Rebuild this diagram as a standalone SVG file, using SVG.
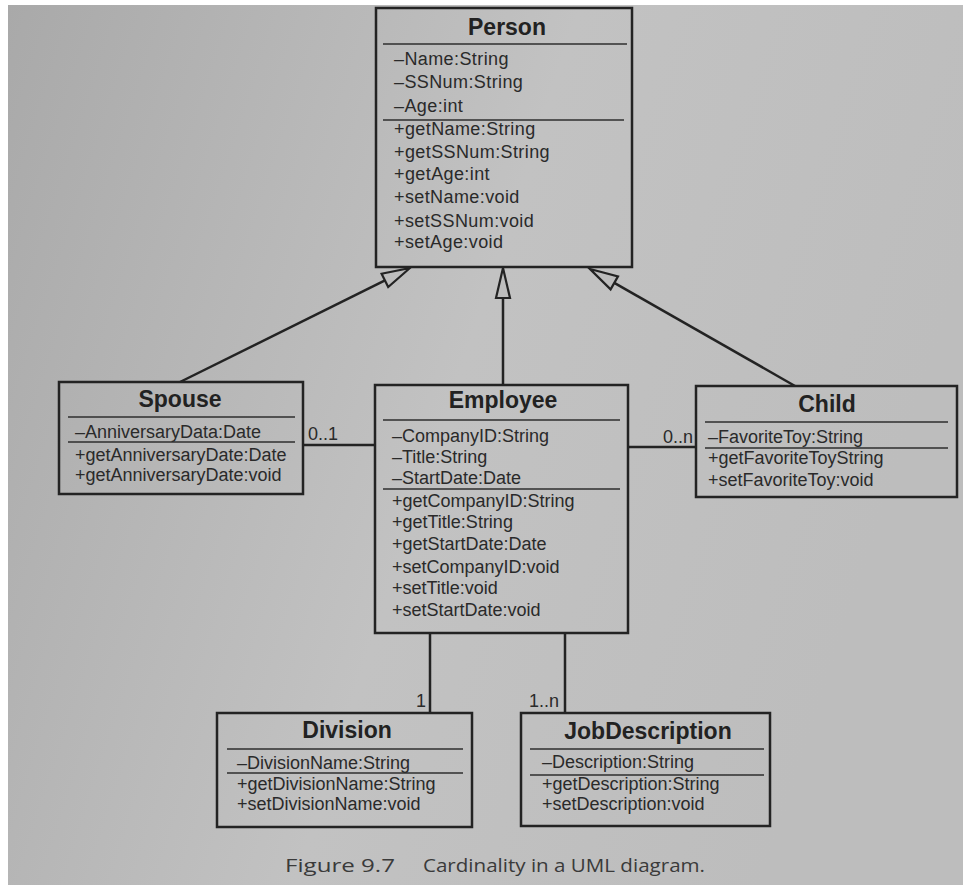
<svg xmlns="http://www.w3.org/2000/svg" width="967" height="890" viewBox="0 0 967 890">
<defs>
<linearGradient id="page" x1="0" y1="0" x2="1" y2="0.3">
<stop offset="0" stop-color="#a9a9a9"/>
<stop offset="0.55" stop-color="#c2c2c2"/>
<stop offset="1" stop-color="#bdbdbd"/>
</linearGradient>
<style>
.box{fill:none;stroke:#232323;stroke-width:2.5}
.sep{stroke:#2e2e2e;stroke-width:1.6}
.title{font-family:"Liberation Sans",Arial,sans-serif;font-weight:bold;font-size:23px;fill:#222;text-anchor:middle}
.mem{font-family:"Liberation Sans",Arial,sans-serif;font-size:18px;fill:#2a2a2a}
.wide{letter-spacing:0.4px}
.line{stroke:#232323;stroke-width:2.5;fill:none}
.head{fill:#bdbdbd;stroke:#232323;stroke-width:2.2;stroke-linejoin:miter}
.card{font-family:"Liberation Sans",Arial,sans-serif;font-size:18px;fill:#2a2a2a}
.cap{font-family:"Open Sans","DejaVu Sans",sans-serif;font-size:18.5px;fill:#3a3a3a}
</style>
</defs>
<rect x="0" y="0" width="967" height="890" fill="#ffffff"/>
<rect x="8" y="5" width="955" height="880" fill="url(#page)"/>

<g id="connectors">
<line class="line" x1="180" y1="382" x2="385" y2="280.4"/>
<polygon class="head" points="410,268 381.6,273.7 388.2,287.1"/>
<line class="line" x1="503" y1="385" x2="503" y2="298"/>
<polygon class="head" points="503,268 496,298 510,298"/>
<line class="line" x1="795" y1="386" x2="614.3" y2="282.9"/>
<polygon class="head" points="590,269 618,276.4 610.6,289.4"/>
<line class="line" x1="303" y1="445" x2="375" y2="445"/>
<text class="card" x="308" y="440">0..1</text>
<line class="line" x1="628" y1="447" x2="696" y2="447"/>
<text class="card" x="663" y="443">0..n</text>
<line class="line" x1="430" y1="633" x2="430" y2="713"/>
<text class="card" x="416" y="707">1</text>
<line class="line" x1="565" y1="633" x2="565" y2="713"/>
<text class="card" x="529" y="707">1..n</text>
</g>

<g id="person">
<rect class="box" x="376" y="8" width="256" height="259"/>
<text class="title" x="507" y="35">Person</text>
<line class="sep" x1="383" y1="44" x2="627" y2="44"/>
<g class="mem wide">
<text x="394" y="65">–Name:String</text>
<text x="394" y="88">–SSNum:String</text>
<text x="394" y="112">–Age:int</text>
</g>
<line class="sep" x1="383" y1="120" x2="624" y2="120"/>
<g class="mem wide">
<text x="394" y="135">+getName:String</text>
<text x="394" y="158">+getSSNum:String</text>
<text x="394" y="180">+getAge:int</text>
<text x="394" y="203">+setName:void</text>
<text x="394" y="227">+setSSNum:void</text>
<text x="394" y="248">+setAge:void</text>
</g>
</g>

<g id="spouse">
<rect class="box" x="59" y="382" width="244" height="112"/>
<text class="title" x="180" y="407">Spouse</text>
<line class="sep" x1="68" y1="417" x2="295" y2="417"/>
<text class="mem" x="75" y="438">–AnniversaryData:Date</text>
<line class="sep" x1="68" y1="442" x2="295" y2="442"/>
<text class="mem" x="75" y="461">+getAnniversaryDate:Date</text>
<text class="mem" x="75" y="481">+getAnniversaryDate:void</text>
</g>

<g id="employee">
<rect class="box" x="375" y="385" width="253" height="248"/>
<text class="title" x="503" y="408">Employee</text>
<line class="sep" x1="383" y1="420" x2="620" y2="420"/>
<g class="mem">
<text x="392" y="442">–CompanyID:String</text>
<text x="392" y="463">–Title:String</text>
<text x="392" y="484">–StartDate:Date</text>
</g>
<line class="sep" x1="383" y1="489" x2="620" y2="489"/>
<g class="mem">
<text x="392" y="507">+getCompanyID:String</text>
<text x="392" y="528">+getTitle:String</text>
<text x="392" y="550">+getStartDate:Date</text>
<text x="392" y="573">+setCompanyID:void</text>
<text x="392" y="594">+setTitle:void</text>
<text x="392" y="616">+setStartDate:void</text>
</g>
</g>

<g id="child">
<rect class="box" x="696" y="386" width="261" height="111"/>
<text class="title" x="827" y="412">Child</text>
<line class="sep" x1="705" y1="422" x2="948" y2="422"/>
<text class="mem" x="708" y="443">–FavoriteToy:String</text>
<line class="sep" x1="705" y1="448" x2="948" y2="448"/>
<text class="mem" x="708" y="464">+getFavoriteToyString</text>
<text class="mem" x="708" y="486">+setFavoriteToy:void</text>
</g>

<g id="division">
<rect class="box" x="217" y="713" width="255" height="114"/>
<text class="title" x="347" y="738">Division</text>
<line class="sep" x1="227" y1="749" x2="463" y2="749"/>
<text class="mem" x="237" y="769">–DivisionName:String</text>
<line class="sep" x1="227" y1="773" x2="463" y2="773"/>
<text class="mem" x="237" y="790">+getDivisionName:String</text>
<text class="mem" x="237" y="810">+setDivisionName:void</text>
</g>

<g id="jobdescription">
<rect class="box" x="521" y="713" width="249" height="113"/>
<text class="title" x="648" y="739">JobDescription</text>
<line class="sep" x1="530" y1="749" x2="764" y2="749"/>
<text class="mem" x="542" y="768">–Description:String</text>
<line class="sep" x1="530" y1="775" x2="764" y2="775"/>
<text class="mem" x="542" y="790">+getDescription:String</text>
<text class="mem" x="542" y="810">+setDescription:void</text>
</g>

<g id="caption">
<text class="cap" x="285" y="872" textLength="110" lengthAdjust="spacingAndGlyphs">Figure 9.7</text>
<text class="cap" x="423" y="872" textLength="282" lengthAdjust="spacingAndGlyphs">Cardinality in a UML diagram.</text>
</g>
</svg>
